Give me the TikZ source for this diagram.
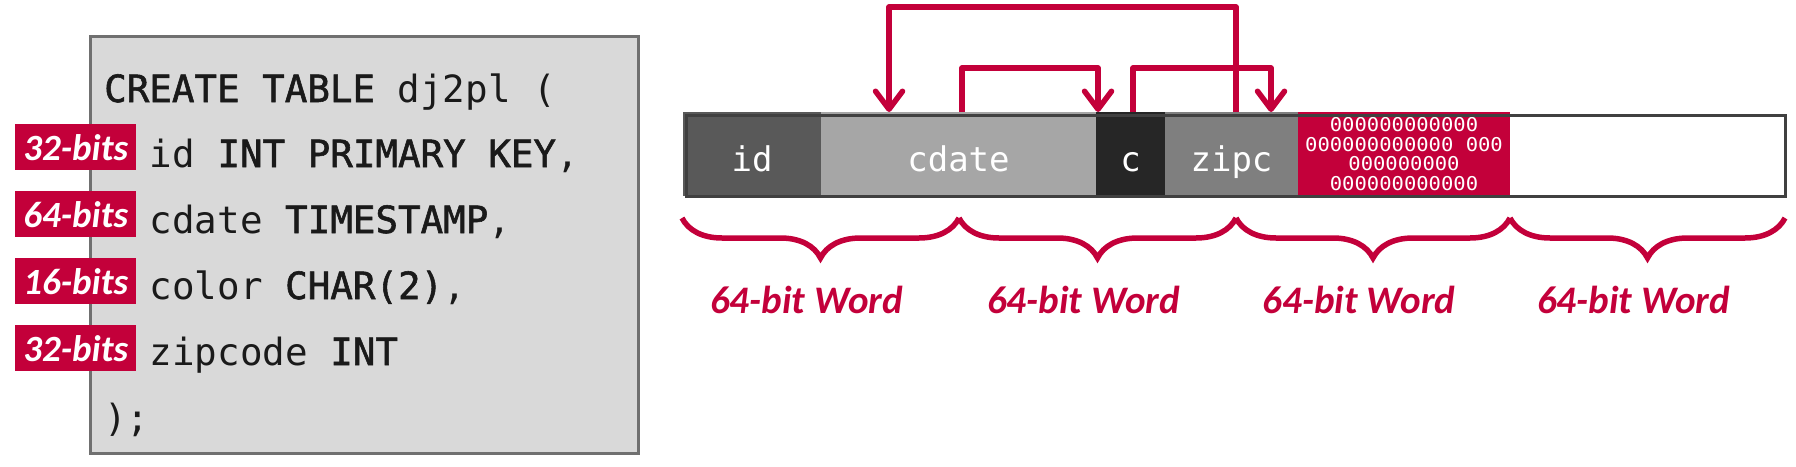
\documentclass[tikz,border=0pt]{standalone}
\usepackage{fontspec}
\usetikzlibrary{arrows.meta,calc,decorations.pathreplacing}
\newfontfamily\monof[BoldFont={DejaVu Sans Mono},BoldFeatures={FakeBold=1.5}]{DejaVu Sans Mono}
\newfontfamily\zerof[FakeStretch=1.08]{DejaVu Sans Mono}
\newfontfamily\carl{Carlito}
\definecolor{cmured}{RGB}{195,0,58}
\definecolor{boxfill}{HTML}{D9D9D9}
\definecolor{boxgray}{HTML}{707070}
\definecolor{codetext}{HTML}{1A1A1A}
\definecolor{bardark}{HTML}{404040}
\definecolor{idfill}{HTML}{595959}
\definecolor{cdatefill}{HTML}{A6A6A6}
\definecolor{cfill}{HTML}{262626}
\definecolor{zipfill}{HTML}{7F7F7F}
\begin{document}
\begin{tikzpicture}[x=1pt,y=-1pt,
  codebox/.style={draw=boxgray, fill=boxfill, line width=3.5pt, inner sep=0pt, anchor=north west},
  bitlab/.style={fill=cmured, text=white, inner sep=0pt, minimum width=121pt, minimum height=46pt, anchor=north west, font=\carl\bfseries\itshape\fontsize{37}{37}\selectfont},
  codeline/.style={anchor=base west, inner sep=0pt, text=codetext, font=\monof\fontsize{37.5}{40}\selectfont},
  cell/.style={inner sep=0pt, outer sep=0pt, anchor=north west, minimum height=84pt, text height=34pt, text depth=0pt, text=white, font=\monof\fontsize{34}{36}\selectfont},
  barframe/.style={draw=bardark, line width=3.5pt, inner sep=0pt, anchor=north west},
  redarrow/.style={draw=cmured, line width=5.5pt, line join=round, -{Straight Barb[length=18pt,width=27pt,round]}},
  bracestyle/.style={draw=cmured, line width=5.5pt, decorate, decoration={brace, mirror, amplitude=40pt}},
  wordlab/.style={anchor=base, inner sep=0pt, text=cmured, font=\carl\bfseries\itshape\fontsize{39}{39}\selectfont}
]
\useasboundingbox (0,0) rectangle (1796,466);

% left panel
\node[codebox, minimum width=548pt, minimum height=417pt] (box) at (88.5,34.5) {};
\node[codeline] (l1) at (104,102) {\textbf{CREATE TABLE} dj2pl (};
\node[codeline] (l2) at (149.5,167) {id \textbf{INT PRIMARY KEY},};
\node[codeline] (l3) at (149.5,233) {cdate \textbf{TIMESTAMP},};
\node[codeline] (l4) at (149.5,299) {color \textbf{CHAR(2)},};
\node[codeline] (l5) at (149.5,365) {zipcode \textbf{INT}};
\node[codeline] (l6) at (104,431) {);};
\node[bitlab] (lab1) at (15,124) {32-bits};
\node[bitlab] (lab2) at (15,191) {64-bits};
\node[bitlab] (lab3) at (15,258) {16-bits};
\node[bitlab] (lab4) at (15,325) {32-bits};

% tuple bar
\node[cell, fill=idfill, minimum width=138pt] (id) at (683,112) {id};
\node[cell, fill=cdatefill, minimum width=275pt] (cdate) at (821,112) {cdate};
\node[cell, fill=cfill, minimum width=69pt] (c) at (1096,112) {c};
\node[cell, fill=zipfill, minimum width=133pt] (zipc) at (1165,112) {zipc};
\node[cell, fill=cmured, minimum width=212pt] (pad) at (1298,112) {};
\node[cell, fill=white, minimum width=275pt] (free) at (1510,112) {};
\node[align=center, inner sep=0pt, text=white, font=\zerof\fontsize{19}{19.7}\selectfont] (zeros) at (pad.center)
  {000000000000\\000000000000 000\\000000000\\000000000000};
\node[barframe, minimum width=1099pt, minimum height=81pt] (bar) at (684.5,113.5) {};

% arrows
\draw[redarrow] ($(cdate.north west)+(141,0)$) -- ++(0,-44) -| ($(c.north west)+(2,0)$);
\draw[redarrow] ($(c.north west)+(37,0)$) -- ++(0,-44) -| ($(zipc.north west)+(106,0)$);
\draw[redarrow] ($(zipc.north west)+(71,0)$) -- ++(0,-105) -| ($(cdate.north west)+(68,0)$);

% braces
\coordinate (b0) at (682,218);
\coordinate (b1) at (959,218);
\coordinate (b2) at (1236,218);
\coordinate (b3) at (1510,218);
\coordinate (b4) at (1785,218);
\draw[bracestyle] (b0) -- (b1);
\draw[bracestyle] (b1) -- (b2);
\draw[bracestyle] (b2) -- (b3);
\draw[bracestyle] (b3) -- (b4);
\node[wordlab] (w1) at ($(b0)!0.5!(b1)+(-14,95)$) {64-bit Word};
\node[wordlab] (w2) at ($(b1)!0.5!(b2)+(-14,95)$) {64-bit Word};
\node[wordlab] (w3) at ($(b2)!0.5!(b3)+(-14,95)$) {64-bit Word};
\node[wordlab] (w4) at ($(b3)!0.5!(b4)+(-14,95)$) {64-bit Word};
\end{tikzpicture}
\end{document}
